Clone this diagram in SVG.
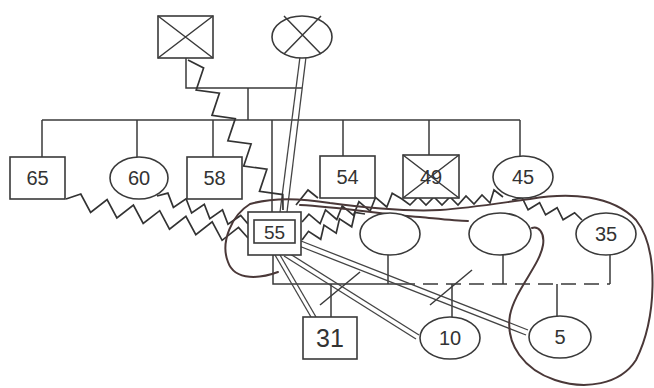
<svg xmlns="http://www.w3.org/2000/svg" width="654" height="388" viewBox="0 0 654 388">
<style>
.n{fill:#fff;stroke:#3a3a3a;stroke-width:1.6}
.x{stroke:#3a3a3a;stroke-width:1.5;fill:none}
.t{font-family:"Liberation Sans","DejaVu Sans",sans-serif;font-size:20px;fill:#333;text-anchor:middle}
.l{stroke:#3a3a3a;stroke-width:1.5;fill:none}
.z{stroke:#333;stroke-width:1.7;fill:none;stroke-linejoin:miter}
.c{stroke:#4a3838;stroke-width:2;fill:none;stroke-linecap:round}
.d{stroke:#444;stroke-width:1.3;fill:none}
</style>
<rect width="654" height="388" fill="#fff"/>
<g id="connectors">
  <!-- parents -->
  <polyline class="l" points="186,58 186,88 302,88"/>
  <line class="l" x1="248" y1="88" x2="248" y2="120"/>
  <line class="l" x1="42" y1="120" x2="520" y2="120"/>
  <line class="l" x1="42" y1="120" x2="42" y2="157"/>
  <line class="l" x1="137" y1="120" x2="137" y2="157"/>
  <line class="l" x1="213" y1="120" x2="213" y2="157"/>
  <line class="l" x1="272" y1="120" x2="272" y2="212"/>
  <line class="l" x1="343" y1="120" x2="343" y2="156"/>
  <line class="l" x1="429" y1="120" x2="429" y2="155"/>
  <line class="l" x1="520" y1="120" x2="520" y2="156"/>
  <!-- 55 partnerships -->
  <polyline class="l" points="273,255 273,284 400,284"/>
  <line class="l" x1="400" y1="284" x2="610" y2="284" stroke-dasharray="15 8"/>
  <line class="l" x1="388" y1="255" x2="388" y2="284"/>
  <line class="l" x1="503" y1="255" x2="503" y2="284"/>
  <line class="l" x1="610" y1="255" x2="610" y2="284"/>
  <line class="l" x1="331" y1="284" x2="331" y2="317"/>
  <line class="l" x1="452" y1="284" x2="452" y2="317"/>
  <line class="l" x1="557" y1="284" x2="557" y2="316"/>
  <line class="l" x1="320" y1="305" x2="360" y2="272"/>
  <line class="l" x1="430" y1="305" x2="472" y2="270"/>
  <!-- double lines -->
  <line class="d" x1="300" y1="57" x2="280" y2="212"/>
  <line class="d" x1="306" y1="57" x2="287" y2="212"/>
  <line class="d" x1="275" y1="255" x2="311" y2="317"/>
  <line class="d" x1="280" y1="255" x2="316" y2="317"/>
  <line class="d" x1="287" y1="252" x2="419" y2="335"/>
  <line class="d" x1="284" y1="256" x2="416" y2="339"/>
  <line class="d" x1="301" y1="241" x2="528" y2="330"/>
  <line class="d" x1="299" y1="246" x2="526" y2="335"/>
  <!-- zigzags -->
  <polyline class="z" points="188,60 203.6,67.9 196.2,90.1 219.4,93.2 212,115.4 235.3,118.6 227.9,140.8 251.1,143.9 243.7,166.1 266.9,169.2 259.5,191.4 282.8,194.6 283,210"/>
  <polyline class="z" points="66,199 80.8,194 90.6,212.4 107.1,199.5 116.9,218 133.4,205.1 143.2,223.5 159.7,210.7 169.5,229.1 185.9,216.3 195.8,234.7 212.2,221.8 222.1,240.3 238.5,227.4 248,238"/>
  <polyline class="z" points="157,196 167.9,193.1 173.4,207.4 186.1,198.7 191.6,213 204.3,204.3 209.8,218.6 222.5,209.9 228,224.2 240.7,215.5 248,224"/>
  <polyline class="z" points="302,222 308.9,214.1 320.1,223.7 325.5,209.9 336.8,219.5 342.2,205.8 353.5,215.3 358.9,201.6 370.1,211.2 375.5,197.4 386.8,207 392.2,193.3 402,199 410,205 418,197 426,205 434,197 442,205 450,197 458,205 466,196 474,204 482,195 490,203 494,190 503,197"/>
  <polyline class="z" points="302,240 308.5,231.3 320.7,239.3 324,225.1 336.2,233.1 339.5,218.8 351.7,226.8 355,212.5 365,214"/>
  <polyline class="z" points="296,205 308,190 318,198"/>
  <polyline class="z" points="512,200 522.1,197.7 528.1,209.8 539.6,202.7 545.6,214.8 557.1,207.7 563.1,219.8 574.6,212.7 582,220"/>
  <!-- curves -->
  <path class="c" d="M278,272 C262,278 235,282 228,262 C220,242 232,215 250,204 C270,198 300,198 330,203 C360,207 400,212 440,210 C470,208 500,203 530,199 C570,192 612,195 636,220 C660,250 656,320 636,360 C620,385 585,390 555,380 C525,370 505,345 510,315 C515,290 540,265 543,245 C545,232 538,226 532,228"/>
  <path class="c" d="M300,205 C340,207 380,214 420,217 C440,219 455,221 468,221"/>
</g>
<g id="father"><rect class="n" x="158" y="16" width="55" height="42"/><path class="x" d="M158,16 L213,58 M213,16 L158,58"/></g>
<g id="mother"><ellipse class="n" cx="302" cy="37" rx="30" ry="21"/><path class="x" d="M284,16 L321,54 M321,16 L284,54"/></g>
<g id="n65"><rect class="n" x="10" y="157" width="55" height="42"/><text class="t" x="37.5" y="185">65</text></g>
<g id="n60"><ellipse class="n" cx="139" cy="178" rx="29" ry="21"/><text class="t" x="139" y="185">60</text></g>
<g id="n58"><rect class="n" x="187" y="157" width="55" height="42"/><text class="t" x="214.5" y="185">58</text></g>
<g id="n54"><rect class="n" x="320" y="156" width="55" height="42"/><text class="t" x="347.5" y="184">54</text></g>
<g id="n49"><rect class="n" x="403" y="155" width="56" height="43"/><text class="t" x="431" y="184" fill="#4a3838">49</text><path class="x" d="M403,155 L459,198 M459,155 L403,198"/></g>
<g id="n45"><ellipse class="n" cx="523" cy="177" rx="30" ry="21"/><text class="t" x="523" y="184">45</text></g>
<g id="n55"><rect class="n" x="248" y="212" width="53" height="43"/><rect class="n" x="254" y="220" width="41" height="23"/><text class="t" x="274.5" y="239" style="font-size:19px">55</text></g>
<g id="partner1"><ellipse class="n" cx="390" cy="234" rx="30" ry="21"/></g>
<g id="partner2"><ellipse class="n" cx="500" cy="234" rx="31" ry="21"/></g>
<g id="n35"><ellipse class="n" cx="606" cy="234" rx="30" ry="21"/><text class="t" x="606" y="241">35</text></g>
<g id="n31"><rect class="n" x="303" y="317" width="54" height="42"/><text class="t" x="330" y="347" style="font-size:25px">31</text></g>
<g id="n10"><ellipse class="n" cx="450" cy="338" rx="30" ry="21"/><text class="t" x="450" y="345">10</text></g>
<g id="n5"><ellipse class="n" cx="560" cy="337" rx="31" ry="21"/><text class="t" x="560" y="344">5</text></g>
</svg>
